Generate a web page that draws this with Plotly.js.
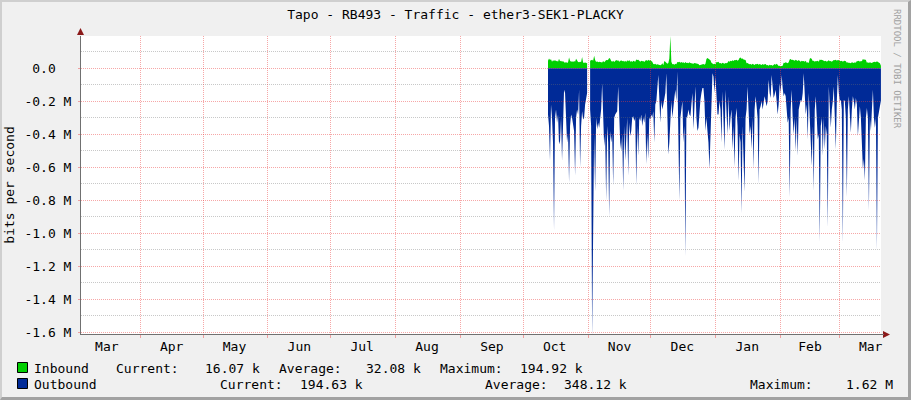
<!DOCTYPE html>
<html><head><meta charset="utf-8">
<script src="https://cdn.plot.ly/plotly-3.0.1.min.js"></script>
<style>
html,body{margin:0;padding:0;background:#F0F0F0;overflow:hidden;}
#wrap{position:relative;width:911px;height:400px;}
#chart{width:911px;height:400px;}
#frame{position:absolute;left:0;top:0;width:911px;height:400px;box-sizing:border-box;border-top:2px solid #CFCFCF;border-left:2px solid #CFCFCF;border-right:3px solid #A2A2A2;border-bottom:3px solid #A2A2A2;pointer-events:none;}
</style></head>
<body><div id="wrap"><div id="chart"></div><div id="frame"></div></div>
<script>
const chartTitle = 'Tapo - RB493 - Traffic - ether3-SEK1-PLACKY';
const yTitle = 'bits per second';
const watermark = 'RRDTOOL / TOBI OETIKER';

// consolidated samples (one per graph column), first sample time and step
const firstSampleUTC = Date.UTC(2022, 9, 12, 19, 30);
const sampleStepHours = 11.5;

// Inbound, kbit/s (null = no data)
const inboundK = [
45,60,50,55,40,48,44,50,42,46,
40,58,42,45,40,44,36,34,38,32,
36,66,45,40,42,38,44,40,58,42,
38,36,40,38,68,35,32,36,30,34,
null,null,46,48,52,46,76,50,38,42,
36,40,38,40,35,44,36,42,50,48,
52,62,58,44,40,46,38,44,50,46,
48,40,44,48,42,46,40,45,38,48,
42,50,40,44,38,46,42,40,54,50,
52,44,40,46,42,44,38,46,50,44,
52,46,50,44,40,26,24,28,22,25,
24,20,18,22,30,18,44,40,30,28,
32,60,194.92,40,24,26,22,28,24,38,
36,40,34,38,34,36,30,38,32,34,
30,36,32,30,30,28,32,30,28,30,
26,18,20,22,24,26,22,28,56,62,
58,52,48,34,26,24,28,24,38,36,
40,30,32,28,34,30,28,32,30,34,
44,40,46,42,48,44,50,48,52,46,
50,62,66,58,60,54,52,50,30,32,
28,24,26,22,28,24,20,26,24,28,
22,26,24,20,26,22,24,26,18,20,
16,22,18,20,16,24,26,22,28,22,
14,16,12,14,16,34,32,36,34,30,
36,54,56,50,52,50,46,52,48,44,
50,44,40,46,42,44,40,46,34,36,
32,58,62,56,44,46,40,44,42,46,
40,54,50,52,48,44,42,46,40,44,
48,42,44,40,46,50,48,52,46,50,
48,44,42,46,40,44,46,42,34,36,
32,34,30,36,34,32,36,34,44,42,
46,40,44,42,56,52,54,50,34,36,
32,36,34,32,36,38,40,36,42,38,
36,30,16.07];

// Outbound, Mbit/s (drawn below zero)
const outboundM = [
0.28,0.35,0.56,0.22,0.30,0.45,0.98,0.30,0.25,0.33,
0.28,0.46,0.44,0.30,0.56,0.25,0.13,0.15,0.30,0.45,
0.40,0.69,0.35,0.28,0.30,0.33,0.38,0.65,0.30,0.25,
0.28,0.13,0.60,0.35,0.26,0.31,0.30,0.22,0.18,0.15,
null,null,0.25,0.35,1.62,1.03,0.40,0.75,0.30,0.37,
0.33,0.36,0.30,0.25,0.09,0.30,0.47,0.40,0.80,0.35,
0.45,0.90,0.38,0.45,0.40,0.71,0.30,0.28,0.27,0.26,
0.11,0.30,0.45,0.50,0.40,0.74,0.35,0.56,0.40,0.30,
0.65,0.33,0.41,0.38,0.30,0.29,0.32,0.30,0.71,0.35,
0.53,0.30,0.32,0.28,0.35,0.30,0.33,0.27,0.58,0.40,
0.55,0.30,0.31,0.28,0.30,0.26,0.45,0.22,0.20,0.09,
0.04,0.18,0.33,0.20,0.25,0.22,0.18,0.15,0.03,0.30,
0.52,0.45,0.25,0.20,0.30,0.22,0.18,0.13,0.20,0.02,
0.50,0.80,0.30,0.25,0.20,0.45,0.35,1.14,0.30,0.29,
0.25,0.28,0.29,0.22,0.15,0.37,0.25,0.11,0.30,0.38,
0.36,0.25,0.19,0.15,0.12,0.12,0.20,0.38,0.30,0.38,
0.45,0.61,0.40,0.20,0.03,0.05,0.15,0.05,0.18,0.28,
0.28,0.20,0.25,0.45,0.14,0.30,0.49,0.13,0.25,0.40,
0.17,0.38,0.30,0.25,0.49,0.35,0.60,0.30,0.24,0.35,
0.68,0.40,0.45,0.88,0.35,0.50,0.75,0.30,0.25,0.11,
0.30,0.40,0.35,0.49,0.30,0.61,0.25,0.17,0.23,0.30,
0.70,0.25,0.23,0.20,0.25,0.22,0.17,0.20,0.23,0.20,
0.07,0.15,0.18,0.04,0.15,0.18,0.16,0.13,0.20,0.28,
0.22,0.09,0.15,0.04,0.12,0.17,0.15,0.17,0.25,0.33,
0.30,0.78,0.25,0.13,0.30,0.40,0.30,0.50,0.30,0.53,
0.25,0.22,0.19,0.20,0.15,0.03,0.20,0.28,0.22,0.43,
0.15,0.30,0.40,0.59,0.35,0.74,0.25,0.17,0.30,0.43,
0.40,1.05,0.35,0.30,0.53,0.30,0.49,0.35,0.40,0.96,
0.11,0.25,0.36,0.25,0.20,0.11,0.30,0.49,0.20,0.04,
0.15,0.20,0.19,0.25,1.06,0.19,0.20,0.30,0.78,0.25,
0.17,0.30,0.39,0.25,0.17,0.20,0.25,0.18,0.22,0.41,
0.30,0.23,0.30,0.45,0.61,0.55,0.68,0.30,0.24,0.30,
0.86,0.30,0.38,0.25,0.13,0.30,0.36,0.30,1.10,0.30,
0.26,0.25,0.195];

const xRange = ['2022-03-03 16:00', '2023-03-20 22:15'];
const monthStarts = ['2022-04-01','2022-05-01','2022-06-01','2022-07-01','2022-08-01','2022-09-01',
  '2022-10-01','2022-11-01','2022-12-01','2023-01-01','2023-02-01','2023-03-01'];
const monthLabelDates = ['2022-03-16','2022-04-16','2022-05-16','2022-06-16','2022-07-16','2022-08-16',
  '2022-09-16','2022-10-16','2022-11-16','2022-12-16','2023-01-16','2023-02-15','2023-03-16'];
const monthLabels = ['Mar','Apr','May','Jun','Jul','Aug','Sep','Oct','Nov','Dec','Jan','Feb','Mar'];

const yRange = [-1609500, 195600];
const yTickVals = [0,-200000,-400000,-600000,-800000,-1000000,-1200000,-1400000,-1600000];
const yTickText = ['0.0\u00a0\u00a0','-0.2 M','-0.4 M','-0.6 M','-0.8 M','-1.0 M','-1.2 M','-1.4 M','-1.6 M'];
const yMinorVals = [100000,-100000,-300000,-500000,-700000,-900000,-1100000,-1300000,-1500000];

const legendNames = ['Inbound','Outbound'];
const legendColors = ['#00CF00','#002A97'];
const inboundStats = ['Inbound','Current:','16.07 k','Average:','32.08 k','Maximum:','194.92 k'];
const outboundStats = ['Outbound','Current:','194.63 k','Average:','348.12 k','Maximum:','1.62 M'];
// layout positions (pixels) of legend fields
const inboundStatX = [34,116,204.5,279,366,440.4,520];
const outboundStatX = [34,219.6,300,485,563.6,749.6,846];

const FONT = 'DejaVu Sans Mono';
const dates = outboundM.map((_, i) => new Date(firstSampleUTC + i*sampleStepHours*3600000).toISOString().slice(0,16).replace('T',' '));

function segmentTraces(vals, scale, color) {
  const out = [];
  let xs = [], ys = [];
  const flush = () => { if (xs.length) out.push({type:'scatter', mode:'lines', x:xs, y:ys, fill:'tozeroy',
      fillcolor:color, line:{width:0, color:color}, hoverinfo:'skip', showlegend:false}); xs = []; ys = []; };
  vals.forEach((v, i) => { if (v === null) flush(); else { xs.push(dates[i]); ys.push(v*scale); } });
  flush();
  return out;
}

const traces = [].concat(
  segmentTraces(inboundK, 1000, legendColors[0]),
  segmentTraces(outboundM, -1000000, legendColors[1]),
  [{type:'scatter', mode:'lines', x:[], y:[], xaxis:'x2', yaxis:'y2', showlegend:false, hoverinfo:'skip'}]
);

const L = 81, T = 36, W = 800, H = 298;
const px2x = p => (p - L)/W, py2y = p => (T + H - p)/H;

const redGrid = 'rgba(235,60,60,0.45)';
const grayGrid = 'rgba(110,110,110,0.38)';
const axisColor = '#707070';
const arrowColor = '#8B1A1A';

const annotations = [];
[[inboundStats, inboundStatX, 368], [outboundStats, outboundStatX, 384]].forEach(([txts, xs, yy]) => {
  txts.forEach((t, k) => annotations.push({xref:'paper', yref:'paper', x:px2x(xs[k]-1), y:py2y(yy),
    xanchor:'left', yanchor:'middle', text:t.replace(/ /g,'\u00a0'), showarrow:false, borderpad:0,
    font:{family:FONT, size:13, color:'#000'}}));
});
annotations.push({xref:'paper', yref:'paper', x:px2x(897), y:py2y(69), text:watermark, textangle:90,
  showarrow:false, xanchor:'center', yanchor:'middle', font:{family:FONT, size:9, color:'#A0A0A0'}});

const shapes = [
  {type:'rect', xref:'paper', yref:'paper', x0:0, x1:1, y0:0, y1:1, fillcolor:'#FFFFFF', line:{width:0}, layer:'below'},
];
legendColors.forEach((c, k) => shapes.push({type:'rect', xref:'paper', yref:'paper',
  x0:px2x(17.5), x1:px2x(27.5), y0:py2y(372.5 + 16*k), y1:py2y(362.5 + 16*k), fillcolor:c, line:{color:'#000', width:1}}));
// axis arrows
const P = (a,b) => px2x(a).toFixed(5) + ',' + py2y(b).toFixed(5);
shapes.push({type:'path', xref:'paper', yref:'paper', path:'M'+P(80.5,28)+' L'+P(77,35)+' L'+P(84,35)+' Z', fillcolor:arrowColor, line:{width:0}});
shapes.push({type:'path', xref:'paper', yref:'paper', path:'M'+P(890,334.5)+' L'+P(883,331)+' L'+P(883,338)+' Z', fillcolor:arrowColor, line:{width:0}});
shapes.push({type:'line', xref:'paper', yref:'paper', x0:px2x(880), x1:px2x(884), y0:py2y(334.5), y1:py2y(334.5), line:{color:axisColor, width:1}});

const layout = {
  width:911, height:400,
  margin:{l:L, r:911-L-W, t:T, b:400-T-H, pad:0},
  paper_bgcolor:'#F0F0F0', plot_bgcolor:'rgba(0,0,0,0)',
  showlegend:false,
  title:{text:chartTitle, x:0.5, xref:'container', xanchor:'center', y:1-14/400, yref:'container', yanchor:'middle',
    font:{family:FONT, size:13, color:'#000'}},
  font:{family:FONT, size:13, color:'#000'},
  xaxis:{type:'date', range:xRange, domain:[0,1], anchor:'y', tickmode:'array', tickvals:monthLabelDates, ticktext:monthLabels,
    ticks:'', showgrid:false, zeroline:false, showline:true, linecolor:axisColor, linewidth:1,
    tickfont:{family:FONT, size:13, color:'#000'}, ticklabelstandoff:0, fixedrange:true},
  yaxis:{range:yRange, domain:[0,1], anchor:'x', tickmode:'array', tickvals:yTickVals, ticktext:yTickText, ticks:'',
    showgrid:false, zeroline:false, showline:true, linecolor:axisColor, linewidth:1,
    tickfont:{family:FONT, size:13, color:'#000'}, ticklabelstandoff:6,
    title:{text:yTitle, font:{family:FONT, size:13, color:'#000'}, standoff:6}, fixedrange:true},
  xaxis2:{type:'date', range:xRange, domain:[0,1], anchor:'y2', tickmode:'array', tickvals:monthStarts,
    showticklabels:false, showgrid:true, gridcolor:redGrid, griddash:'1px,1px', gridwidth:1,
    ticks:'outside', ticklen:3, tickcolor:redGrid, zeroline:false, showline:false, fixedrange:true},
  yaxis2:{range:yRange, domain:[0,1], anchor:'x2', tickmode:'array', tickvals:yTickVals, showticklabels:false,
    showgrid:true, gridcolor:redGrid, griddash:'1px,1px', gridwidth:1, ticks:'outside', ticklen:2, tickcolor:redGrid,
    zeroline:false, showline:false, fixedrange:true,
    minor:{tickmode:'array', tickvals:yMinorVals, showgrid:true, gridcolor:grayGrid, griddash:'1px,1px', gridwidth:1, ticks:''}},
  annotations:annotations,
  shapes:shapes
};

Plotly.newPlot('chart', traces, layout, {displayModeBar:false, staticPlot:true});
</script></body></html>
